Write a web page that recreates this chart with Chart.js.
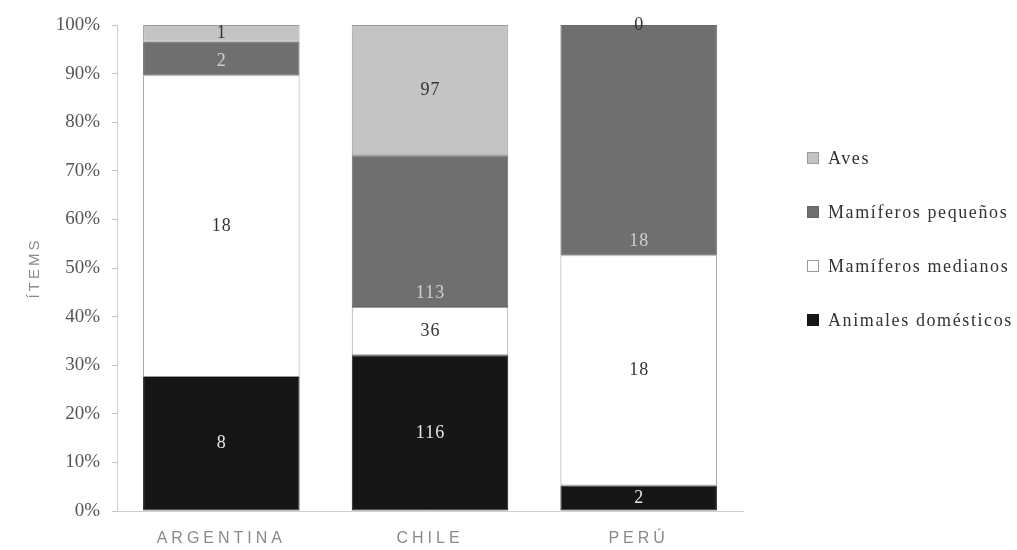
<!DOCTYPE html>
<html>
<head>
<meta charset="utf-8">
<script src="https://cdn.jsdelivr.net/npm/chart.js@4.4.1/dist/chart.umd.min.js"></script>
<style>
  html, body { margin: 0; padding: 0; background: #fff; }
</style>
</head>
<body>
<canvas id="myChart" width="1017" height="550"></canvas>
<script>
// Datos: número de ítems por país
const paises = ['ARGENTINA', 'CHILE', 'PERÚ'];
const domesticos = [8, 116, 2];
const medianos = [18, 36, 18];
const pequenos = [2, 113, 18];
const aves = [1, 97, 0];
const yTicks = [0, 10, 20, 30, 40, 50, 60, 70, 80, 90, 100];

const totales = paises.map((_, i) => domesticos[i] + medianos[i] + pequenos[i] + aves[i]);
const pct = arr => arr.map((v, i) => v / totales[i] * 100);

// etiquetas con el número dentro de cada segmento
const etiquetas = {
  id: 'etiquetas',
  afterDatasetsDraw(chart) {
    const ctx = chart.ctx;
    ctx.save();
    ctx.font = '18px "Liberation Serif"';
    ctx.letterSpacing = '1px';
    ctx.textAlign = 'center';
    ctx.textBaseline = 'middle';
    chart.data.datasets.forEach((ds, i) => {
      chart.getDatasetMeta(i).data.forEach((bar, j) => {
        const p = bar.getProps(['x', 'y', 'base'], true);
        const y = ds.anchor === 'start' ? p.base - 14 : (p.y + p.base) / 2;
        ctx.fillStyle = ds.labelColor;
        ctx.fillText(String(ds.counts[j]), p.x + 0.5, y);
      });
    });
    ctx.restore();
  }
};

// leyenda a la derecha
const leyenda = {
  id: 'leyenda',
  afterDraw(chart) {
    const ctx = chart.ctx;
    const sets = chart.data.datasets.slice().reverse();
    ctx.save();
    ctx.font = '18px "Liberation Serif"';
    ctx.letterSpacing = '1.6px';
    ctx.textAlign = 'left';
    ctx.textBaseline = 'middle';
    sets.forEach((ds, k) => {
      const y = 158 + k * 54;
      ctx.fillStyle = ds.backgroundColor;
      ctx.fillRect(807.5, y - 5.5, 11, 11);
      ctx.strokeStyle = ds.borderColor;
      ctx.lineWidth = 1;
      ctx.strokeRect(807.5, y - 5.5, 11, 11);
      ctx.fillStyle = '#333';
      ctx.fillText(ds.label, 828, y + 1);
    });
    ctx.restore();
  }
};

const data = {
  labels: paises,
  datasets: [
    { label: 'Animales domésticos', data: pct(domesticos), counts: domesticos,
      backgroundColor: '#161616', borderColor: '#161616', labelColor: '#e6e6e6' },
    { label: 'Mamíferos medianos', data: pct(medianos), counts: medianos,
      backgroundColor: '#ffffff', borderColor: '#9a9a9a', labelColor: '#333' },
    { label: 'Mamíferos pequeños', data: pct(pequenos), counts: pequenos, anchor: 'start',
      backgroundColor: '#6f6f6f', borderColor: '#666', labelColor: '#d0d0d0' },
    { label: 'Aves', data: pct(aves), counts: aves,
      backgroundColor: '#c4c4c4', borderColor: '#9a9a9a', labelColor: '#333' }
  ].map(ds => Object.assign(ds, {
    borderWidth: 1, borderSkipped: false, barPercentage: 0.75, categoryPercentage: 1
  }))
};

const config = {
  type: 'bar',
  data: data,
  options: {
    responsive: false,
    animation: false,
    devicePixelRatio: 1,
    layout: { padding: { top: 25, right: 274, left: 0, bottom: 0 } },
    plugins: { legend: { display: false }, tooltip: { enabled: false } },
    scales: {
      x: {
        stacked: true,
        grid: { display: false, drawTicks: false },
        border: { color: '#cfcfcf' },
        ticks: { font: { family: 'Liberation Sans', size: 16 }, color: '#8a8a8a', padding: 18 },
        afterFit(s) { s.height = 39; }
      },
      y: {
        stacked: true,
        min: 0,
        max: 100,
        afterBuildTicks(s) { s.ticks = yTicks.map(v => ({ value: v })); },
        ticks: { callback: v => v + '%', font: { family: 'Liberation Serif', size: 19 }, color: '#555', padding: 12 },
        grid: { drawOnChartArea: false, drawTicks: true, tickLength: 5, color: '#c4c4c4' },
        border: { color: '#cfcfcf' },
        title: { display: true, text: 'ÍTEMS', font: { family: 'Liberation Sans', size: 15 }, color: '#8a8a8a',
                 padding: { top: 26, bottom: 0 } },
        afterFit(s) { s.width = 117; }
      }
    }
  },
  plugins: [etiquetas, leyenda]
};

const ctx = document.getElementById('myChart');
const myChart = new Chart(ctx, config);

// espaciado entre letras para los textos de los ejes
const xs = myChart.scales.x;
const drawX = xs.drawLabels;
xs.drawLabels = function (area) {
  this.ctx.save(); this.ctx.letterSpacing = '4px';
  drawX.call(this, area);
  this.ctx.restore();
};
const ys = myChart.scales.y;
const drawT = ys.drawTitle;
ys.drawTitle = function () {
  this.ctx.save(); this.ctx.letterSpacing = '3px';
  drawT.call(this);
  this.ctx.restore();
};
myChart.draw();
</script>
</body>
</html>
